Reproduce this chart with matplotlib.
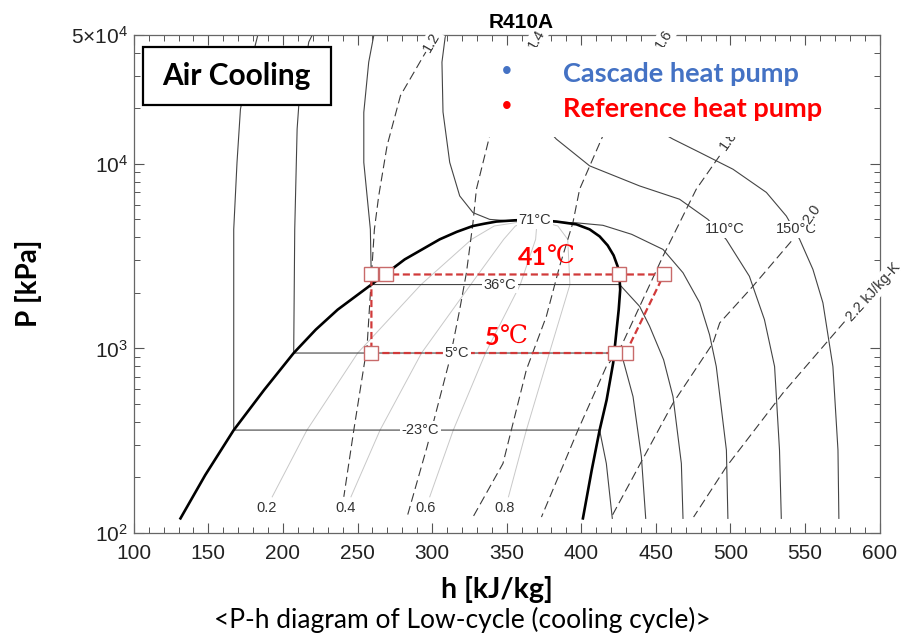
import matplotlib.pyplot as plt
from matplotlib.patches import Rectangle

plt.rcParams['font.family'] = ['Liberation Sans', 'DejaVu Sans']
plt.rcParams['mathtext.default'] = 'regular'

# saturation dome (h in kJ/kg, P in kPa)
liq_h = [131.3, 147.9, 167.0, 187.4, 207.2, 222.0, 236.7, 259.3, 281.6, 305.1, 316.5,
         327.3, 335.2, 343.1, 355.4, 368.8]
liq_p = [120, 206, 361, 596, 944, 1264, 1622, 2218, 3034, 3899, 4280,
         4604, 4742, 4867, 4943, 4980]
vap_h = [368.8, 383.3, 396.7, 405.6, 412.3, 417.7, 421.7, 424.4, 425.7, 426.1, 425.1,
         423.7, 421.4, 417.0, 412.3, 407.0, 401.1]
vap_p = [4980, 4867, 4700, 4415, 4045, 3614, 3190, 2780, 2361, 2083, 1622,
         1264, 835, 526, 361, 219, 120]

# isotherms
t_m23_h = [183.1, 175.7, 171.5, 169.2, 167.0, 167.0, 412.3, 416.8, 420.2, 420.8]
t_m23_p = [49660, 28800, 19780, 10180, 4415, 361, 361, 238, 133, 120]
t_5_h = [219.5, 217.3, 210.6, 209.5, 207.9, 207.2, 421.5, 428.0, 434.7, 440.3, 443.2]
t_5_p = [49660, 45700, 20650, 15440, 4415, 944, 944, 868, 548, 259, 120]
t_36_h = [260.9, 257.5, 254.2, 254.2, 256.4, 258.6, 259.3, 425.7, 439.1, 445.8, 455.2, 461.5, 467.1, 468.2]
t_36_p = [49660, 35560, 19000, 10180, 6700, 4415, 2218, 2218, 1690, 1319, 868, 548, 238, 120]
t_71_h = [308.9, 306.6, 307.3, 311.8, 318.5, 327.4, 338.6, 353.2, 368.8, 383.3, 396.7, 414.5,
          433.8, 454.8, 468.2, 479.4, 486.0, 490.5, 497.3, 498.3]
t_71_p = [49660, 35560, 19100, 10180, 6700, 5440, 5000, 4900, 4960, 4840, 4790, 4645,
          4150, 3438, 2570, 1766, 1186, 798, 281, 120]
t_110_h = [358.7, 383.3, 405.6, 439.1, 465.9, 484.9, 497.2, 512.7, 522.8, 529.6, 532.9, 534.1]
t_110_p = [22440, 13610, 9750, 7590, 6430, 5000, 3890, 2460, 1432, 798, 281, 120]
t_150_h = [425.7, 461.5, 479.4, 501.7, 524.1, 537.5, 546.4, 555.3, 562.0, 568.7, 572.1, 572.7]
t_150_p = [19800, 13610, 11530, 9350, 7000, 5210, 3899, 2680, 1766, 798, 281, 120]
isotherms = [(t_m23_h, t_m23_p), (t_5_h, t_5_p), (t_36_h, t_36_p),
             (t_71_h, t_71_p), (t_110_h, t_110_p), (t_150_h, t_150_p)]

# isentropes [kJ/kg-K]
s12_h = [297.1, 294.4, 278.8, 269.8, 264.2, 261.3, 259.3, 256.4, 247.5, 240.8]
s12_p = [42000, 38640, 23440, 12530, 6700, 4415, 2460, 1026, 361, 157]
s14_h = [365.4, 348.7, 338.6, 329.7, 327.4, 323.0, 318.5, 311.8, 296.6, 283.2]
s14_p = [44660, 25410, 14190, 7290, 4802, 2570, 1622, 868, 293, 122]
s16_h = [445.8, 432.4, 414.5, 398.9, 394.4, 385.5, 376.6, 363.2, 347.5, 327.4]
s16_p = [41970, 25470, 14190, 7290, 4802, 2791, 1493, 766, 238, 122]
s18_h = [492.7, 477.1, 454.8, 425.7, 416.8, 397.8, 373.3]
s18_p = [11040, 7290, 3162, 984, 798, 361, 122]
s20_h = [553.1, 541.9, 515.1, 492.8, 488.3, 461.5, 420.2]
s20_p = [5915, 3899, 2173, 1374, 1069, 505, 122]
s22_h = [576.5, 535.2, 497.2, 475.3]
s22_p = [1396, 573, 228, 122]
isentropes = [(s12_h, s12_p), (s14_h, s14_p), (s16_h, s16_p),
              (s18_h, s18_p), (s20_h, s20_p), (s22_h, s22_p)]

# vapour quality lines
q_p = [157, 361, 944, 2218, 3899, 4604, 4980]
q02_h = [192.8, 216.1, 250.1, 292.6, 326.5, 341.6, 368.8]
q04_h = [245.6, 265.1, 292.9, 325.9, 348.0, 355.8, 368.8]
q06_h = [298.4, 314.2, 335.8, 359.1, 369.4, 370.1, 368.8]
q08_h = [351.2, 363.2, 378.6, 392.4, 390.9, 384.3, 368.8]
qualities = [q02_h, q04_h, q06_h, q08_h]

# reference heat pump cycle
cycle_h = [429.8, 455.4, 425.3, 268.9, 259.3, 259.3, 422.4, 429.8]
cycle_p = [944, 2515, 2515, 2515, 2515, 944, 944, 944]

fig = plt.figure(figsize=(9.04, 6.33), dpi=100)
ax = fig.add_axes([0.148, 0.158, 0.825, 0.787])

for h in qualities:
    ax.plot(h, q_p, color='#c8c8c8', lw=0.7, zorder=1)
for h, p in isentropes:
    ax.plot(h, p, color='#3a3a3a', lw=0.8, dashes=(8, 4), zorder=1.5)
for h, p in isotherms:
    ax.plot(h, p, color='#444444', lw=0.8, zorder=1.5)
ax.plot(liq_h, liq_p, color='black', lw=1.9, zorder=2)
ax.plot(vap_h, vap_p, color='black', lw=1.9, zorder=2)

ax.plot(cycle_h, cycle_p, color='#d13a3a', lw=1.6, dashes=(3.2, 1.6), zorder=4)
ax.plot(cycle_h[:-1], cycle_p[:-1], 's', ms=9.5, mfc='white', mec='#c86a6a', mew=1.0,
        ls='none', zorder=4.5)

lab = dict(fontsize=10.5, color='#333333', ha='center', va='center')
wb = dict(facecolor='white', edgecolor='none', pad=1.2)
ax.text(368.8, 4950, '71°C', bbox=wb, zorder=3, **lab)
ax.text(345.3, 2218, '36°C', bbox=wb, zorder=3, **lab)
ax.text(316.7, 944, '5°C', bbox=wb, zorder=5, **lab)
ax.text(292.2, 361, '-23°C', bbox=wb, zorder=3, **lab)
ax.text(496.1, 4415, '110°C', bbox=wb, zorder=3, **lab)
ax.text(530.5, 4415, '150°C', bbox=wb, zorder=3, fontsize=10.5, color='#333333',
        ha='left', va='center')
for h, t in zip([189.1, 242.1, 295.7, 348.7], ['0.2', '0.4', '0.6', '0.8']):
    ax.text(h, 136, t, **lab)
ax.text(299.7, 45800, '1.2', rotation=60, bbox=wb, zorder=3, **lab)
ax.text(370.1, 47600, '1.4', rotation=60, bbox=wb, zorder=3, **lab)
ax.text(455.2, 47000, '1.6', rotation=58, bbox=wb, zorder=3, **lab)
ax.text(498.8, 13460, '1.8', rotation=55, bbox=wb, zorder=3, **lab)
ax.text(554.4, 5330, '2.0', rotation=55, zorder=3.2,
        bbox=dict(facecolor='white', edgecolor='none', pad=0.5), **lab)
ax.text(595.5, 2010, '2.2 kJ/kg-K', rotation=48, bbox=wb, zorder=3, clip_on=False, **lab)

# red temperature labels: bold digits, serif degree sign
for h, p, t in [(376.8, 3111, '41'), (345.3, 1143, '5')]:
    ax.text(h, p, t, color='red', fontsize=18, fontweight='bold', family='Lato',
            ha='right', va='center', zorder=6)
    ax.text(h, p, '℃', color='red', fontsize=18, family=['DejaVu Serif', 'DejaVu Sans'],
            ha='left', va='center', zorder=6)

ax.set_yscale('log')
ax.set_xlim(100, 600)
ax.set_ylim(100, 50000)
ax.set_xticks([100, 150, 200, 250, 300, 350, 400, 450, 500, 550, 600])
ax.set_xticks(range(110, 600, 10), minor=True)
ax.set_yticks([100, 1000, 10000, 50000])
ax.set_yticklabels(['$10^{2}$', '$10^{3}$', '$10^{4}$', r'$5{\times}10^{4}$'])
ax.tick_params(which='both', direction='in', top=True, right=True, color='#555555',
               labelsize=15, labelcolor='#222222')
ax.tick_params(which='major', length=7, width=0.8)
ax.tick_params(which='minor', length=4, width=0.7)
ax.tick_params(axis='x', pad=8)
ax.tick_params(axis='y', pad=4)
for sp in ax.spines.values():
    sp.set_color('#666666')
    sp.set_linewidth(0.9)

# legend area and label box
ax.add_patch(Rectangle((0.4745, 0.795), 0.4985, 0.181, transform=ax.transAxes,
                       facecolor='white', edgecolor='none', zorder=6))
ax.add_patch(Rectangle((0.0117, 0.8588), 0.2523, 0.1177, transform=ax.transAxes,
                       facecolor='white', edgecolor='black', lw=1.6, zorder=6))
ax.text(0.138, 0.918, 'Air Cooling', transform=ax.transAxes, fontsize=21.5,
        fontweight='bold', family='Lato', ha='center', va='center', zorder=7)
ax.text(0.5, 0.925, '•', transform=ax.transAxes, color='#4472c4', fontsize=20,
        ha='center', va='center', zorder=7)
ax.text(0.5, 0.855, '•', transform=ax.transAxes, color='red', fontsize=20,
        ha='center', va='center', zorder=7)
ax.text(0.575, 0.921, 'Cascade heat pump', transform=ax.transAxes, color='#4472c4',
        fontsize=19.5, fontweight='bold', family='Lato', ha='left', va='center', zorder=7)
ax.text(0.575, 0.852, 'Reference heat pump', transform=ax.transAxes, color='red',
        fontsize=19.5, fontweight='bold', family='Lato', ha='left', va='center', zorder=7)

fig.text(0.577, 0.965, 'R410A', fontsize=15, fontweight='bold', ha='center', va='center')
fig.text(0.55, 0.068, 'h [kJ/kg]', fontsize=20.5, fontweight='bold', family='Lato',
         ha='center', va='center')
fig.text(0.031, 0.553, 'P [kPa]', fontsize=20, fontweight='bold', family='Lato',
         rotation=90, ha='center', va='center')
fig.text(0.511, 0.02, '<P-h diagram of Low-cycle (cooling cycle)>', fontsize=19,
         family='Lato', ha='center', va='center')

fig.savefig('out.png', dpi=100)
